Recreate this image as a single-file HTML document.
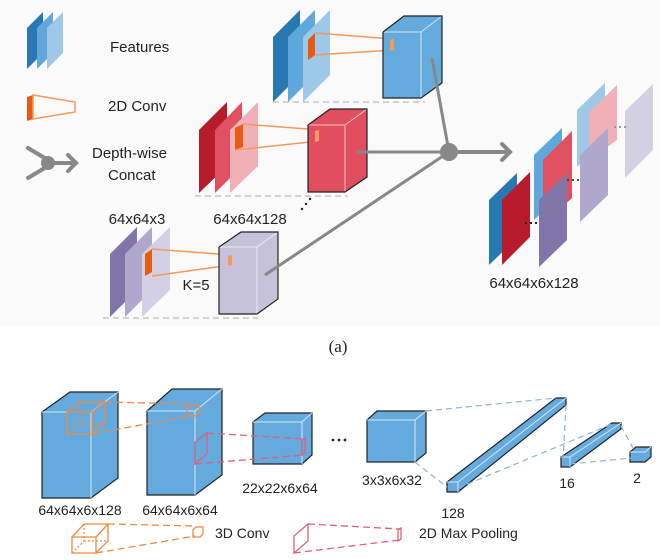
<!DOCTYPE html>
<html><head><meta charset="utf-8"><style>
html,body{margin:0;padding:0;background:#fff;}
svg{display:block;}
text{font-family:"Liberation Sans",sans-serif;fill:#222;}
</style></head><body>
<svg width="660" height="560" viewBox="0 0 660 560" xmlns="http://www.w3.org/2000/svg">
<rect x="0" y="0" width="660" height="325" fill="#fafafa"/>
<!-- Legend -->
<polygon points="27,69 27,28 43,12 43,53" fill="#2878b4"/>
<polygon points="37,69 37,28 53,12 53,53" fill="#5fa8dc"/>
<polygon points="47,69 47,28 63,12 63,53" fill="#9dc8e8"/>
<text x="110" y="52" font-size="15">Features</text>
<polygon points="27,97 33,95 33,119 27,121" fill="#e85a10"/>
<polygon points="33,95 75,102 75,112 33,119" fill="none" stroke="#f59a5a" stroke-width="1.5"/>
<text x="108" y="111" font-size="15">2D Conv</text>
<g stroke="#888" stroke-width="4" fill="none" stroke-linecap="round">
<line x1="28" y1="148" x2="48" y2="160"/><line x1="28" y1="178" x2="48" y2="166"/>
<line x1="48" y1="163" x2="76" y2="163"/><polyline points="68,155 76,163 68,171"/>
</g>
<circle cx="48" cy="163" r="7" fill="#888"/>
<text x="92" y="158" font-size="15">Depth-wise</text>
<text x="108" y="180" font-size="15">Concat</text>

<!-- Blue stack -->
<polygon points="273,102 273,37 300,10 300,75" fill="#2878b4"/>
<polygon points="288,102 288,37 315,10 315,75" fill="#5fa8dc"/>
<polygon points="303,102 303,37 330,10 330,75" fill="#9dc8e8"/>
<line x1="273" y1="102" x2="425" y2="102" stroke="#aaa" stroke-dasharray="6,4"/>
<polygon points="308,40 315,33 315,55 308,60" fill="#e85a10"/>
<polyline points="315,33 393,39 393,50 315,55" fill="none" stroke="#f59a5a" stroke-width="1.5"/>
<!-- Blue cube -->
<polygon points="383,32 404,16 442,16 442,83 421,98 383,98" fill="#64aadc"/>
<polyline points="383,32 421,32 442,16" fill="none" stroke="#cfe5f5" stroke-width="1"/>
<line x1="421" y1="32" x2="421" y2="98" stroke="#cfe5f5"/>
<polyline points="383,32 404,16 442,16 442,83 421,98 383,98 383,32" fill="none" stroke="#222" stroke-width="1.2"/>
<polygon points="390,40 394,38 394,50 390,51" fill="#f59a5a"/>

<!-- Red stack -->
<polygon points="199,193 199,130 227,102 227,166" fill="#b81c2c"/>
<polygon points="215,193 215,130 242,102 242,166" fill="#e05060"/>
<polygon points="230,193 230,130 258,102 258,166" fill="#f0b0b8"/>
<line x1="195" y1="196" x2="348" y2="196" stroke="#aaa" stroke-dasharray="6,4"/>
<polygon points="235,128 243,124 243,147 235,150" fill="#e85a10"/>
<polyline points="243,124 320,130 320,141 235,150" fill="none" stroke="#f59a5a" stroke-width="1.5"/>
<!-- Red cube -->
<polygon points="308,125 330,109 367,109 367,177 345,192 308,192" fill="#e04e60"/>
<polyline points="308,125 345,125 367,109" fill="none" stroke="#f7c0c8"/>
<line x1="345" y1="125" x2="345" y2="192" stroke="#f7c0c8"/>
<polyline points="308,125 330,109 367,109 367,177 345,192 308,192 308,125" fill="none" stroke="#222" stroke-width="1.2"/>
<polygon points="315,131 319,130 319,141 315,142" fill="#f59a5a"/>
<circle cx="302" cy="209" r="1.2" fill="#222"/><circle cx="306" cy="204" r="1.2" fill="#222"/><circle cx="310" cy="199" r="1.2" fill="#222"/>

<!-- Purple stack -->
<polygon points="110,317 110,254 137,227 137,290" fill="#8074a8"/>
<polygon points="125,317 125,254 152,227 152,290" fill="#b0a8cc"/>
<polygon points="142,317 142,254 170,227 170,290" fill="#d4d0e4"/>
<line x1="103" y1="318" x2="258" y2="318" stroke="#aaa" stroke-dasharray="6,4"/>
<polygon points="145,254 152,249 152,272 145,276" fill="#e85a10"/>
<polyline points="152,249 231,255 231,265 152,276" fill="none" stroke="#f59a5a" stroke-width="1.5"/>
<!-- Purple cube -->
<polygon points="219,247 241,232 278,232 278,299 257,314 219,314" fill="#c6c2da"/>
<polyline points="219,247 257,247 278,232" fill="none" stroke="#ecebf3"/>
<line x1="257" y1="247" x2="257" y2="314" stroke="#ecebf3"/>
<polyline points="219,247 241,232 278,232 278,299 257,314 219,314 219,247" fill="none" stroke="#222" stroke-width="1.2"/>
<polygon points="228,256 232,255 232,265 228,266" fill="#f59a5a"/>
<text x="137" y="224" font-size="15" text-anchor="middle">64x64x3</text>
<text x="250" y="224" font-size="15" text-anchor="middle">64x64x128</text>
<text x="196" y="290" font-size="15" text-anchor="middle">K=5</text>

<!-- connectors -->
<g stroke="#888" stroke-width="3" fill="none">
<line x1="432" y1="58" x2="449" y2="152"/>
<line x1="357" y1="152" x2="449" y2="152"/>
<line x1="265" y1="275" x2="449" y2="152"/>
<line x1="449" y1="152" x2="510" y2="152" stroke-width="4"/>
<polyline points="502,144 510,152 502,160" stroke-width="4" stroke-linecap="round"/>
</g>
<circle cx="449" cy="152" r="9" fill="#888"/>

<!-- output stack -->
<polygon points="625,178 625,111 653,84 653,150" fill="#d4d0e4"/>
<polygon points="577,167 577,110 605,83 605,140" fill="#9dc8e8"/>
<polygon points="589,160 589,112 617,85 617,140" fill="#f0b0b8"/>
<polygon points="580,222 580,155 608,128 608,195" fill="#b0a8cc"/>
<polygon points="534,220 534,155 562,128 562,193" fill="#5fa8dc"/>
<polygon points="543,225 543,160 572,131 572,198" fill="#e05060"/>
<polygon points="539,267 539,200 567,173 567,240" fill="#8074a8"/>
<polygon points="489,265 489,200 517,173 517,238" fill="#2878b4"/>
<polygon points="502,265 502,200 530,172 530,237" fill="#b81c2c"/>
<line x1="525" y1="223" x2="537" y2="223" stroke="#222" stroke-width="2" stroke-dasharray="2,3"/>
<line x1="567" y1="180" x2="580" y2="180" stroke="#444" stroke-width="2" stroke-dasharray="2,3"/>
<line x1="614" y1="127" x2="627" y2="127" stroke="#999" stroke-width="2" stroke-dasharray="2,3"/>
<text x="534" y="288" font-size="15" text-anchor="middle">64x64x6x128</text>

<text x="338" y="352" font-size="17" text-anchor="middle" style="font-family:'Liberation Serif',serif">(a)</text>

<!-- bottom diagram -->
<g stroke="#222" stroke-width="1.2" fill="#64aadc">
<polygon points="42,412 70,392 118,392 118,478 91,498 42,498"/>
<polygon points="147,411 172,389 222,389 222,475 195,495 147,495"/>
<polygon points="253,422 265,413 312,413 312,455 302,464 253,464"/>
<polygon points="367,420 377,411 426,411 426,453 415,462 367,462"/>
<polygon points="447,482 556,398 566,398 566,405 458,492 447,492"/>
<polygon points="561,457 612,423 621,423 621,429 570,467 561,467"/>
<polygon points="630,452 636,447 651,447 651,457 645,462 630,462"/>
</g>
<g stroke="#d2e6f5" stroke-width="1" fill="none">
<polyline points="42,412 91,412 118,392"/><line x1="91" y1="412" x2="91" y2="498"/>
<polyline points="147,411 195,411 222,389"/><line x1="195" y1="411" x2="195" y2="495"/>
<polyline points="253,422 302,422 312,413"/><line x1="302" y1="422" x2="302" y2="464"/>
<polyline points="367,420 415,420 426,411"/><line x1="415" y1="420" x2="415" y2="462"/>
<polyline points="447,482 458,482 566,398"/><line x1="458" y1="482" x2="458" y2="492"/>
<polyline points="561,457 570,457 621,423"/><line x1="570" y1="457" x2="570" y2="467"/>
<polyline points="630,452 645,452 651,447"/>
</g>
<g stroke="#f08a40" stroke-width="1.3" fill="none">
<polygon points="67,412 80,402 105,402 105,422 92,434 67,434"/>
<polyline points="67,412 92,412 105,402"/><line x1="92" y1="412" x2="92" y2="434"/>
<polyline points="80,402 80,424 67,434" stroke-dasharray="2,2"/><line x1="80" y1="424" x2="105" y2="424" stroke-dasharray="2,2"/>
<line x1="105" y1="402" x2="190" y2="404" stroke-dasharray="7,4"/>
<line x1="92" y1="434" x2="190" y2="416" stroke-dasharray="7,4"/>
<polygon points="187,409 191,405 199,405 199,413 195,416 187,416"/>
</g>
<g stroke="#e0607a" stroke-width="1.3" fill="none">
<polygon points="195,442 207,433 207,454 195,464"/>
<line x1="207" y1="433" x2="304" y2="439" stroke-dasharray="7,4"/>
<line x1="195" y1="464" x2="304" y2="455" stroke-dasharray="7,4"/>
<polygon points="302,440 305,438 305,453 302,455"/>
</g>
<g stroke="#8ab4d4" stroke-width="1.2" fill="none" stroke-dasharray="6,4">
<line x1="426" y1="411" x2="556" y2="398"/>
<line x1="415" y1="462" x2="447" y2="487"/>
<line x1="566" y1="405" x2="563" y2="460"/>
<line x1="458" y1="488" x2="612" y2="424"/>
<line x1="621" y1="426" x2="634" y2="450"/>
<line x1="570" y1="464" x2="632" y2="458"/>
</g>
<circle cx="333" cy="440" r="1.4" fill="#222"/><circle cx="339" cy="440" r="1.4" fill="#222"/><circle cx="345" cy="440" r="1.4" fill="#222"/>
<g font-size="14" text-anchor="middle">
<text x="80" y="515">64x64x6x128</text>
<text x="180" y="515">64x64x6x64</text>
<text x="280" y="493">22x22x6x64</text>
<text x="392" y="485">3x3x6x32</text>
<text x="453" y="518">128</text>
<text x="567" y="488">16</text>
<text x="637" y="483">2</text>
</g>
<g stroke="#f08a40" stroke-width="1.3" fill="none">
<polygon points="72,537 84,524 108,524 108,541 96,553 72,553"/>
<polyline points="72,537 96,537 108,524"/><line x1="96" y1="537" x2="96" y2="553"/>
<polyline points="84,524 84,541 72,553" stroke-dasharray="2,2"/><line x1="84" y1="541" x2="108" y2="541" stroke-dasharray="2,2"/>
<line x1="108" y1="524" x2="195" y2="526" stroke-dasharray="7,4"/>
<line x1="96" y1="553" x2="195" y2="536" stroke-dasharray="7,4"/>
<polygon points="193,530 196,527 203,527 203,534 200,537 193,537"/>
</g>
<text x="215" y="538" font-size="14">3D Conv</text>
<g stroke="#e0607a" stroke-width="1.3" fill="none">
<polygon points="294,536 308,524 308,541 294,553"/>
<line x1="308" y1="524" x2="400" y2="529" stroke-dasharray="7,4"/>
<line x1="294" y1="553" x2="400" y2="540" stroke-dasharray="7,4"/>
<polygon points="398,530 401,528 401,539 398,541"/>
</g>
<text x="419" y="538" font-size="14">2D Max Pooling</text>
</svg>
</body></html>
